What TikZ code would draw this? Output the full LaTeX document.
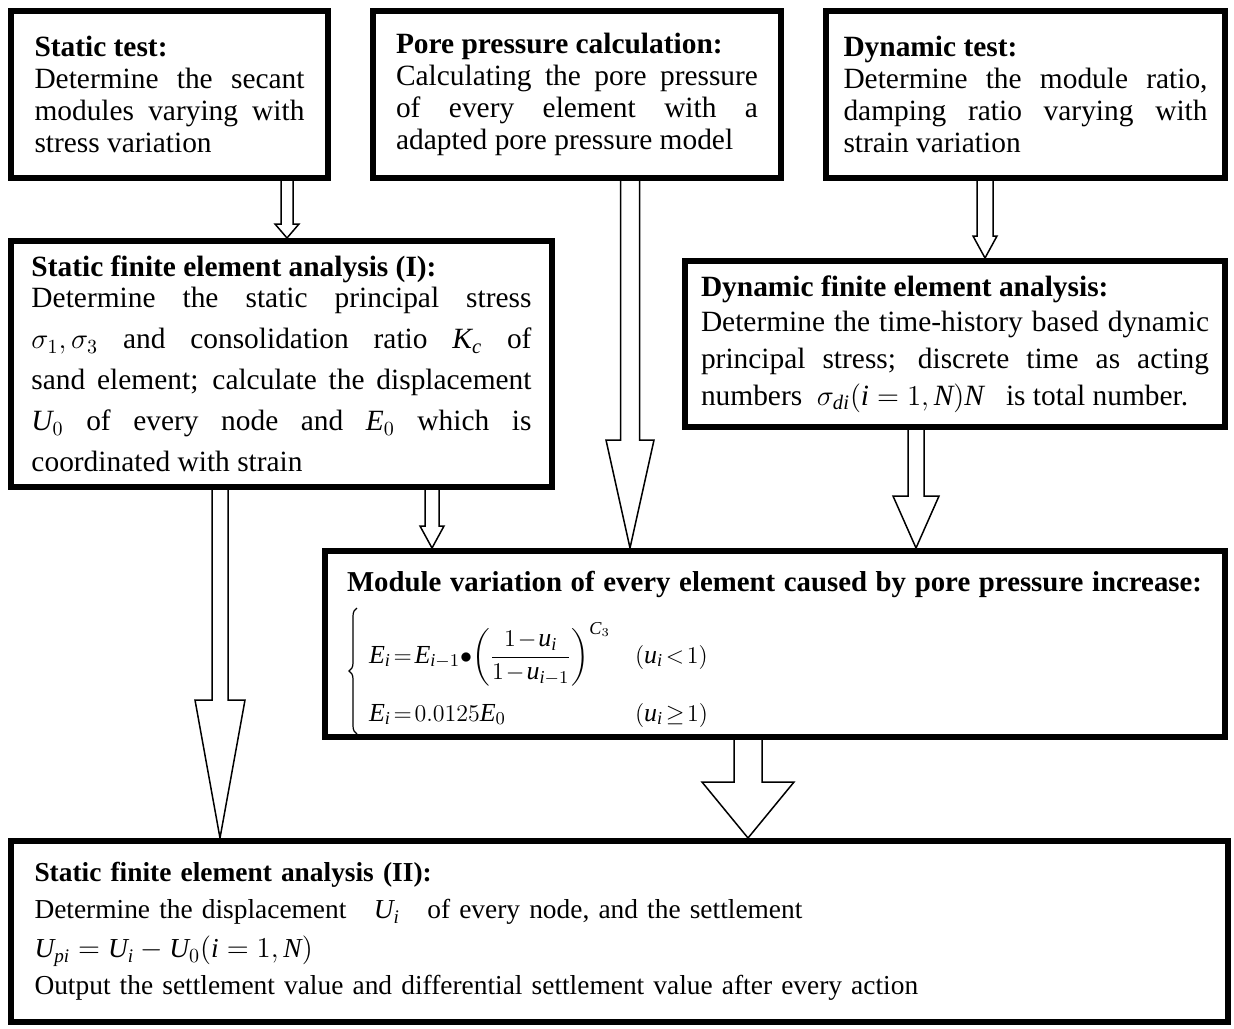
\documentclass[tikz,border=0pt]{standalone}
\usepackage{amsmath}
\usepackage{fontspec}
\setmainfont{Liberation Serif}
\usetikzlibrary{calc,decorations.pathreplacing}
\setlength{\parindent}{0pt}
\tikzset{
  stage/.style={draw=black, line width=3pt, anchor=north west, inner sep=0pt,
    align=justify, font=\fontsize{14.7}{16}\selectfont},
  hollow/.style={draw=black, fill=white, line width=0.75pt, line join=miter},
  curly/.style={decorate, decoration={brace, amplitude=4pt}, line width=0.6pt},
}
\newcommand{\mi}[1]{\mathit{#1}}
% block arrow: from node, to node, x (px), shaft half, head half, head length (px)
\newcommand{\hollowarrow}[6]{%
  \draw[hollow] let \p1=(#1.south), \p2=(#2.north), \p3=(#3,0) in
    (\x3-#4*0.5pt,\y1) -- (\x3-#4*0.5pt,\y2+#6*0.5pt) -- (\x3-#5*0.5pt,\y2+#6*0.5pt)
    -- (\x3,\y2) -- (\x3+#5*0.5pt,\y2+#6*0.5pt) -- (\x3+#4*0.5pt,\y2+#6*0.5pt)
    -- (\x3+#4*0.5pt,\y1);
}

\begin{document}
\begin{tikzpicture}[x=0.5pt, y=-0.5pt]
    \path[use as bounding box, fill=white] (0,0) rectangle (1234,1028);

    \node[stage, minimum width=158.5pt, minimum height=83.5pt, text width=135pt] (stest) at (8,8)
      {\textbf{Static test:}\\ Determine the secant\linebreak modules varying with\linebreak stress variation};
    \node[stage, minimum width=204pt, minimum height=83.5pt, text width=181pt] (pore) at (370,8)
      {\textbf{Pore pressure calculation:}\\ Calculating the pore pressure\linebreak of every element with a\linebreak adapted pore pressure model};
    \node[stage, minimum width=199.5pt, minimum height=83.5pt, text width=182pt] (dtest) at (823,8)
      {\textbf{Dynamic test:}\\ Determine the module ratio,\linebreak damping ratio varying with\linebreak strain variation};
    \node[stage, font=\fontsize{14.7}{20.5}\selectfont, minimum width=270.5pt, minimum height=123pt, text width=250pt] (sfe1) at (8,238)
      {\textbf{Static finite element analysis (I):}\\[-5pt] Determine the static principal stress\linebreak $\sigma_1,\sigma_3$ and consolidation ratio $\mi{K}_{\mi{c}}$ of\linebreak sand element; calculate the displacement\linebreak $\mi{U}_0$ of every node and $\mi{E}_0$ which is\linebreak coordinated with strain};
    \node[stage, font=\fontsize{14.7}{18.5}\selectfont, minimum width=270pt, minimum height=83pt, text width=254pt] (dfe) at (682,258)
      {\textbf{Dynamic finite element analysis:}\\[-1pt] Determine the time-history based dynamic\linebreak principal stress; discrete time as acting\linebreak numbers~~$\sigma_{\mi{di}}(\mi{i}=1,\mi{N})\mi{N}$~~ is total number.};
    \node[stage, align=left, font=\fontsize{13}{29}\selectfont, minimum width=450pt, minimum height=93pt, text width=428pt] (module) at (322,548)
      {\lineskiplimit=-100pt\relax \thickmuskip=2mu\relax \medmuskip=1.5mu\relax
       \rule{0pt}{15pt}\mbox{\fontsize{14.4}{16}\selectfont\textbf{Module variation of every element caused by pore pressure increase:}}\\[7pt]
       \hspace*{11pt}\makebox[133pt][l]{$\mi{E}_{\mi{i}}=\mi{E}_{\mi{i}-1}{\bullet}\!\left(\dfrac{1-\mi{u}_{\mi{i}}}{1-\mi{u}_{\mi{i}-1}}\right)^{\mi{C}_3}$}$(\mi{u}_{\mi{i}}<1)$\\
       \hspace*{11pt}\makebox[133pt][l]{$\mi{E}_{\mi{i}}=0.0125\mi{E}_0$}$(\mi{u}_{\mi{i}}\geq 1)$};
    \node[stage, align=left, font=\fontsize{13.7}{18.5}\selectfont, minimum width=608.5pt, minimum height=90.5pt, text width=585pt] (sfe2) at (8,838)
      {\textbf{Static finite element analysis (II):}\\ Determine the displacement~~ $\mi{U}_{\mi{i}}$~~ of every node, and the settlement\\[1pt] $\mi{U}_{\mi{pi}}=\mi{U}_{\mi{i}}-\mi{U}_0(\mi{i}=1,\mi{N})$\\ Output the settlement value and differential settlement value after every action};

    % brace of the two cases
    \coordinate (brtop) at ([xshift=17.5pt, yshift=-30pt]module.north west);
    \coordinate (brbot) at ([xshift=17.5pt, yshift=-93pt]module.north west);
    \draw[curly] (brbot) -- (brtop);

    \hollowarrow{stest}{sfe1}{287}{6}{12}{14}
    \hollowarrow{pore}{module}{630}{9.5}{24}{108}
    \hollowarrow{dtest}{dfe}{985}{8}{12}{22}
    \hollowarrow{sfe1}{module}{432}{7}{12}{22}
    \hollowarrow{sfe1}{sfe2}{220}{8}{25}{138}
    \hollowarrow{dfe}{module}{916}{8}{23}{52}
    \hollowarrow{module}{sfe2}{748}{14}{46}{56}
\end{tikzpicture}
\end{document}
